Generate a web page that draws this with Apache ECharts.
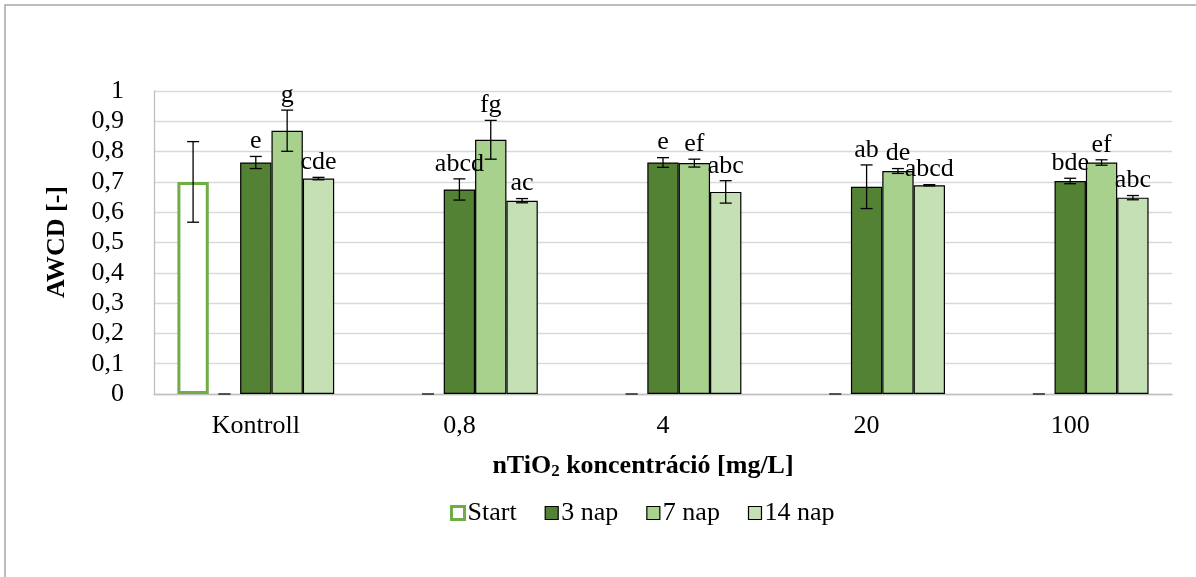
<!DOCTYPE html>
<html>
<head>
<meta charset="utf-8">
<script src="https://cdn.jsdelivr.net/npm/echarts@6/dist/echarts.min.js"></script>
<style>
  html, body { margin: 0; padding: 0; background: #fff; }
  #chart { width: 1196px; height: 577px; }
</style>
</head>
<body>
<div id="chart"></div>
<script>
// AWCD values per nTiO2 concentration and incubation time
const categories = ['Kontroll', '0,8', '4', '20', '100'];
const yTicks = [0, 0.1, 0.2, 0.3, 0.4, 0.5, 0.6, 0.7, 0.8, 0.9, 1];

const startVals = [0.70, null, null, null, null];
const startErr  = [0.133, null, null, null, null];

const zeroVals = [0, 0, 0, 0, 0];

const nap3Vals    = [0.764, 0.675, 0.764, 0.684, 0.703];
const nap3Err     = [0.020, 0.035, 0.016, 0.072, 0.009];
const nap3Letters = ['e', 'abcd', 'e', 'ab', 'bde'];

const nap7Vals    = [0.869, 0.839, 0.762, 0.736, 0.764];
const nap7Err     = [0.068, 0.064, 0.013, 0.008, 0.009];
const nap7Letters = ['g', 'fg', 'ef', 'de', 'ef'];

const nap14Vals    = [0.711, 0.638, 0.667, 0.689, 0.648];
const nap14Err     = [0.004, 0.007, 0.037, 0.002, 0.007];
const nap14Letters = ['cde', 'ac', 'abc', 'abcd', 'abc'];

const FONT = '"Liberation Serif", "Times New Roman", serif';
const FS = 26;
const CAT_GAP = 0.23;   // share of a category left empty
const SLOTS = 5;        // bars per category

const chart = echarts.init(document.getElementById('chart'));

// error bars + significance letters drawn on top of the bar in a given slot
function errorSeries(slot, vals, errs, letters, capColor) {
  const data = [];
  vals.forEach((v, i) => {
    if (v === null || v === undefined) return;
    data.push([i, v, errs[i], letters ? letters[i] : '']);
  });
  return {
    type: 'custom',
    z: 5,
    silent: true,
    data: data,
    encode: { x: 0, y: 1 },
    renderItem: function (params, api) {
      const idx = api.value(0);
      const v = api.value(1);
      const e = api.value(2);
      const txt = data[params.dataIndex][3];
      const catW = api.size([1, 0])[0];
      const barW = catW * (1 - CAT_GAP) / SLOTS;
      const cx = api.coord([idx, 0])[0] + (slot - (SLOTS - 1) / 2) * barW;
      const yTop = api.coord([idx, v + e])[1];
      const yBot = api.coord([idx, v - e])[1];
      const cap = 6;
      const col = capColor || '#000';
      const children = [
        { type: 'line', shape: { x1: cx, y1: yTop, x2: cx, y2: yBot }, style: { stroke: col, lineWidth: 1.3 } },
        { type: 'line', shape: { x1: cx - cap, y1: yTop, x2: cx + cap, y2: yTop }, style: { stroke: col, lineWidth: 1.3 } },
        { type: 'line', shape: { x1: cx - cap, y1: yBot, x2: cx + cap, y2: yBot }, style: { stroke: col, lineWidth: 1.3 } }
      ];
      if (txt) {
        children.push({
          type: 'text',
          style: {
            text: txt, x: cx, y: yTop - 2,
            textAlign: 'center', textVerticalAlign: 'bottom',
            fontSize: FS, fontFamily: FONT, fill: '#000'
          }
        });
      }
      return { type: 'group', children: children };
    }
  };
}

const barBase = { type: 'bar', barGap: '0%', barCategoryGap: (CAT_GAP * 100) + '%' };

chart.setOption({
  animation: false,
  backgroundColor: '#fff',
  textStyle: { fontFamily: FONT },
  grid: { left: 154, right: 24, top: 91, bottom: 183, containLabel: false },
  graphic: [
    {
      type: 'rect', shape: { x: 5, y: 5, width: 1230, height: 620 },
      style: { fill: 'none', stroke: '#a6a6a6', lineWidth: 1.5 }, silent: true
    },
    {
      type: 'text', x: 57, y: 242, rotation: Math.PI / 2,
      style: {
        text: 'AWCD [-]', textAlign: 'center', textVerticalAlign: 'middle',
        fontSize: FS, fontWeight: 'bold', fontFamily: FONT, fill: '#000'
      }
    },
    {
      type: 'text', x: 643, y: 466,
      style: {
        text: '{b|nTiO}{s|2}{b| koncentráció [mg/L]}',
        textAlign: 'center', textVerticalAlign: 'middle',
        rich: {
          b: { fontSize: FS, fontWeight: 'bold', fontFamily: FONT, fill: '#000' },
          s: { fontSize: 17, fontWeight: 'bold', fontFamily: FONT, fill: '#000', padding: [11, 0, 0, 0] }
        }
      }
    }
  ],
  legend: {
    bottom: 46,
    left: 445,
    itemWidth: 13,
    itemHeight: 13,
    itemGap: 28,
    textStyle: { fontSize: FS, fontFamily: FONT, color: '#000', padding: [0, 0, 0, -2] },
    data: [
      { name: 'Start', icon: 'rect', itemStyle: { color: '#fff', borderColor: '#70AD47', borderWidth: 3 } },
      { name: '3 nap', icon: 'rect', itemStyle: { color: '#548235', borderColor: '#000', borderWidth: 1.2 } },
      { name: '7 nap', icon: 'rect', itemStyle: { color: '#A9D18E', borderColor: '#000', borderWidth: 1.2 } },
      { name: '14 nap', icon: 'rect', itemStyle: { color: '#C5E0B4', borderColor: '#000', borderWidth: 1.2 } }
    ]
  },
  xAxis: {
    type: 'category',
    data: categories,
    axisTick: { show: false },
    axisLine: { lineStyle: { color: '#bfbfbf', width: 1.3 } },
    axisLabel: { fontSize: FS, fontFamily: FONT, color: '#000', margin: 19 }
  },
  yAxis: {
    type: 'value',
    min: 0, max: 1, interval: 0.1,
    axisLine: { show: true, lineStyle: { color: '#bfbfbf', width: 1.3 } },
    axisTick: { show: false },
    splitLine: { lineStyle: { color: '#d9d9d9', width: 1.3 } },
    axisLabel: {
      fontSize: FS, fontFamily: FONT, color: '#000', margin: 30,
      customValues: yTicks,
      formatter: v => String(Math.round(v * 10) / 10).replace('.', ',')
    }
  },
  series: [
    Object.assign({}, barBase, {
      name: 'Start', data: startVals,
      itemStyle: { color: '#fff', borderColor: '#70AD47', borderWidth: 3 }
    }),
    Object.assign({}, barBase, {
      name: 'blank', data: zeroVals,
      itemStyle: { color: 'transparent' }
    }),
    Object.assign({}, barBase, {
      name: '3 nap', data: nap3Vals,
      itemStyle: { color: '#548235', borderColor: '#000', borderWidth: 1.2 }
    }),
    Object.assign({}, barBase, {
      name: '7 nap', data: nap7Vals,
      itemStyle: { color: '#A9D18E', borderColor: '#000', borderWidth: 1.2 }
    }),
    Object.assign({}, barBase, {
      name: '14 nap', data: nap14Vals,
      itemStyle: { color: '#C5E0B4', borderColor: '#000', borderWidth: 1.2 }
    }),
    errorSeries(0, startVals, startErr, null),
    errorSeries(1, zeroVals, [0, 0, 0, 0, 0], null, '#404040'),
    errorSeries(2, nap3Vals, nap3Err, nap3Letters),
    errorSeries(3, nap7Vals, nap7Err, nap7Letters),
    errorSeries(4, nap14Vals, nap14Err, nap14Letters)
  ]
});
</script>
</body>
</html>
